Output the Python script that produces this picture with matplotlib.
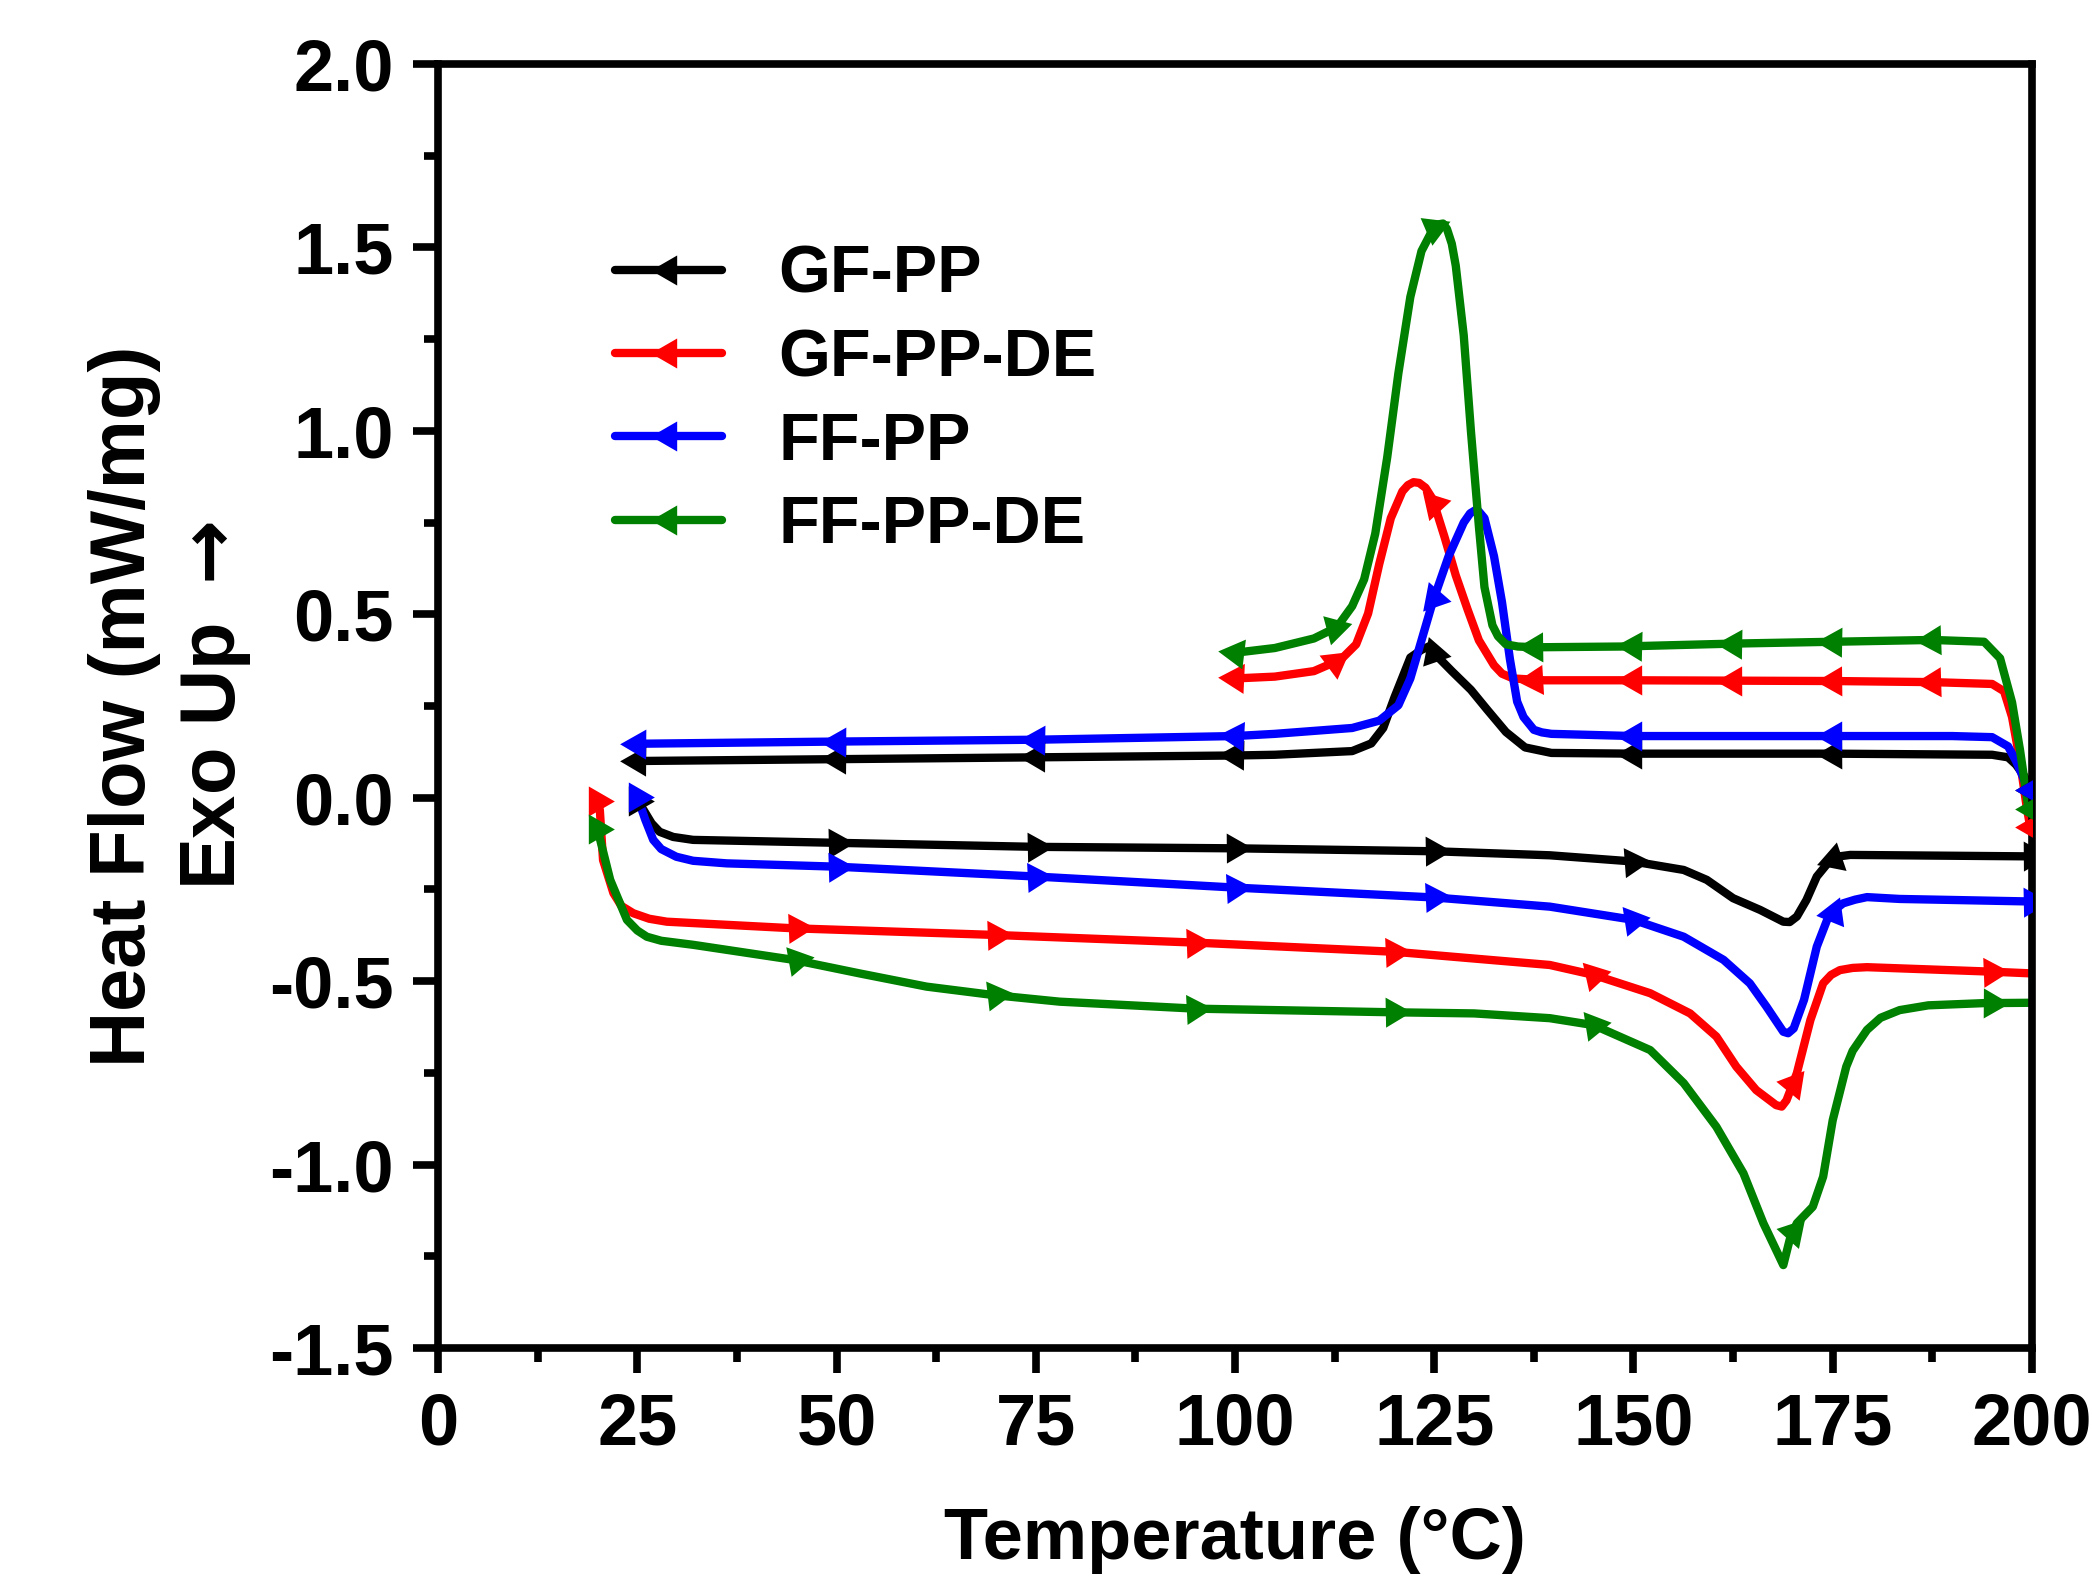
"""DSC heating / cooling curves for GF-PP, GF-PP-DE, FF-PP, FF-PP-DE."""

import numpy as np
import matplotlib
matplotlib.use("Agg")
from matplotlib import pyplot as plt
from matplotlib.lines import Line2D

plt.rcParams['font.family'] = ['Liberation Sans', 'DejaVu Sans']
plt.rcParams['font.weight'] = 'bold'

labels = ["GF-PP", "GF-PP-DE", "FF-PP", "FF-PP-DE"]
colors = ["#000000", "#ff0000", "#0000ff", "#008000"]

# ---- cooling scans (200 -> low T), listed in travel order ----
gf_pp_cool_T = [200, 199.5, 199, 198, 197, 195, 175, 150, 139.7, 136.4, 134, 131.6,
                129.6, 127.2, 125.3, 124.4, 123.4, 122, 120, 118.6, 117.1, 114.7,
                105, 100, 75, 50, 25]
gf_pp_cool_Y = [0.02, 0.04, 0.06, 0.09, 0.11, 0.117, 0.12, 0.12, 0.122, 0.137, 0.179,
                0.241, 0.294, 0.345, 0.387, 0.413, 0.403, 0.382, 0.273, 0.19, 0.148,
                0.127, 0.117, 0.115, 0.11, 0.105, 0.10]

gf_ppde_cool_T = [200, 199.7, 199.3, 198.5, 197.5, 196.5, 195, 187.5, 175, 150, 138.8,
                  134.9, 133.5, 132.5, 130.6, 129.2, 127.7, 126.3, 124.8, 123.9, 123.1,
                  122.4, 121.7, 121, 119.55, 118.1, 116.7, 115.2, 113.3, 109.9, 105, 100]
gf_ppde_cool_Y = [-0.08, -0.07, -0.02, 0.10, 0.22, 0.29, 0.31, 0.315, 0.318, 0.32, 0.32,
                  0.325, 0.338, 0.361, 0.429, 0.512, 0.606, 0.71, 0.814, 0.845, 0.858,
                  0.86, 0.852, 0.835, 0.762, 0.637, 0.502, 0.418, 0.377, 0.345, 0.33,
                  0.325]

ff_pp_cool_T = [200, 199.4, 199, 198, 197, 195, 190, 175, 150, 139.7, 138.5, 137.5,
                136.2, 135.4, 134.5, 133.5, 132.5, 131.3, 130.6, 130.1, 129.5, 128.7,
                126.8, 124.8, 123.4, 122, 120.5, 118.1, 114.7, 105, 100, 75, 50, 25]
ff_pp_cool_Y = [0.02, 0.03, 0.05, 0.10, 0.14, 0.165, 0.168, 0.168, 0.168, 0.174, 0.178,
                0.185, 0.22, 0.262, 0.377, 0.533, 0.658, 0.762, 0.78, 0.783, 0.775, 0.75,
                0.658, 0.533, 0.429, 0.325, 0.252, 0.21, 0.19, 0.174, 0.168, 0.158,
                0.153, 0.147]

ff_ppde_cool_T = [200, 199.5, 198.5, 197.5, 196, 194, 187.5, 175, 162.5, 148.4, 137.8,
                  135.5, 134, 133, 132.3, 131.3, 130.6, 129.6, 128.7, 127.7, 127.2,
                  126.6, 126.1, 125.6, 125.1, 124.6, 123.4, 122, 120.5, 119.1, 117.6,
                  116.2, 114.7, 112.8, 109.9, 105, 100]
ff_ppde_cool_Y = [-0.03, -0.02, 0.13, 0.26, 0.38, 0.425, 0.43, 0.425, 0.42, 0.412, 0.41,
                  0.412, 0.418, 0.44, 0.47, 0.574, 0.74, 1.0, 1.26, 1.45, 1.51, 1.55,
                  1.565, 1.563, 1.555, 1.54, 1.49, 1.365, 1.157, 0.928, 0.72, 0.595,
                  0.522, 0.465, 0.434, 0.408, 0.395]

# ---- heating scans (low T -> 200), listed in travel order ----
gf_pp_heat_T = [25, 25.8, 26.8, 27.8, 29.5, 32, 50, 75, 100, 125, 139.5, 150, 156.3,
                159.2, 162.5, 165.9, 168.8, 169.6, 170.5, 171.7, 173, 174.7, 175.8,
                177.2, 200]
gf_pp_heat_Y = [-0.01, -0.034, -0.07, -0.093, -0.107, -0.115, -0.123, -0.134, -0.138,
                -0.146, -0.157, -0.174, -0.197, -0.224, -0.274, -0.306, -0.338, -0.339,
                -0.324, -0.279, -0.215, -0.17, -0.16, -0.156, -0.16]

gf_ppde_heat_T = [20, 20.3, 20.7, 22, 23, 24.5, 26.5, 28.7, 44.6, 69.7, 95, 120, 139.5,
                  145, 152.1, 157.1, 160.4, 162.9, 165.4, 167.9, 168.6, 169.2, 170.5,
                  172.2, 173.8, 174.8, 175.9, 177.5, 179.3, 194.7, 200]
gf_ppde_heat_Y = [-0.01, -0.034, -0.17, -0.26, -0.295, -0.315, -0.33, -0.338, -0.356,
                  -0.374, -0.395, -0.42, -0.456, -0.483, -0.533, -0.588, -0.651, -0.733,
                  -0.797, -0.838, -0.842, -0.825, -0.751, -0.606, -0.506, -0.483, -0.47,
                  -0.464, -0.462, -0.474, -0.479]

ff_pp_heat_T = [25, 26, 27, 28, 29.9, 32, 36.2, 50, 75.1, 100, 125, 139.5, 150, 156.3,
                161.3, 164.6, 166.7, 168.8, 169.4, 170.1, 171.4, 173, 174.3, 175.3,
                176.3, 177.8, 179.3, 183.4, 200]
ff_pp_heat_Y = [0.003, -0.06, -0.115, -0.14, -0.161, -0.172, -0.179, -0.188, -0.215,
                -0.245, -0.272, -0.297, -0.333, -0.379, -0.442, -0.506, -0.57, -0.638,
                -0.642, -0.629, -0.551, -0.406, -0.333, -0.305, -0.288, -0.278, -0.271,
                -0.276, -0.283]

ff_ppde_heat_T = [20, 21.6, 23.7, 25, 26.2, 28, 32, 44.6, 52.9, 61.3, 69.7, 78, 95,
                  120, 130, 139.5, 145, 152.1, 156.3, 160.4, 163.8, 166.3, 168.8, 169.6,
                  170.5, 172.5, 173.8, 175, 176.7, 177.5, 179.3, 181, 183.4, 187, 193.9,
                  200]
ff_ppde_heat_Y = [-0.085, -0.224, -0.333, -0.362, -0.379, -0.39, -0.401, -0.442, -0.479,
                  -0.515, -0.538, -0.556, -0.575, -0.585, -0.588, -0.601, -0.62, -0.688,
                  -0.778, -0.897, -1.024, -1.16, -1.274, -1.205, -1.16, -1.115, -1.033,
                  -0.879, -0.733, -0.69, -0.633, -0.60, -0.579, -0.566, -0.56, -0.559]

# marker temperatures (where the arrow symbols sit)
marks_25 = [200, 175, 150, 125, 100, 75, 50, 25]
marks_12 = [200, 187.5, 175, 162.5, 150, 137.5, 125, 112.5, 100]
marks_heat_25 = [25, 50, 75, 100, 125, 150, 175, 200]
marks_heat_20 = [20, 45, 70, 95, 120, 145, 170, 195]

cooling = [(gf_pp_cool_T, gf_pp_cool_Y, marks_25),
           (gf_ppde_cool_T, gf_ppde_cool_Y, marks_12),
           (ff_pp_cool_T, ff_pp_cool_Y, marks_25),
           (ff_ppde_cool_T, ff_ppde_cool_Y, marks_12)]
heating = [(gf_pp_heat_T, gf_pp_heat_Y, marks_heat_25),
           (gf_ppde_heat_T, gf_ppde_heat_Y, marks_heat_20),
           (ff_pp_heat_T, ff_pp_heat_Y, marks_heat_25),
           (ff_ppde_heat_T, ff_ppde_heat_Y, marks_heat_20)]

LW = 6.0
MS = 25


def arrow_markers(ax, T, Y, marks, color):
    """Put triangle markers on a curve, turned along the (mirrored) scan direction."""
    T = np.asarray(T, float)
    Y = np.asarray(Y, float)
    order = np.argsort(T)
    ts, ys = T[order], Y[order]
    step = 0.7 if T[-1] > T[0] else -0.7
    for tm in marks:
        ym = np.interp(tm, ts, ys)
        if abs(tm - T[0]) < 1e-6:
            ang = 0.0 if step > 0 else 180.0
        else:
            p0 = ax.transData.transform((tm - step, np.interp(tm - step, ts, ys)))
            p1 = ax.transData.transform((tm, ym))
            dx, dy = p1 - p0
            ang = np.degrees(np.arctan2(-dy, dx))
        ax.plot([tm], [ym], linestyle='none', marker=(3, 0, ang - 90), ms=MS,
                color=color, mec=color, mew=0, zorder=3)


fig = plt.figure(figsize=(20.92, 15.79), dpi=100)
ax = fig.add_axes([0.2094, 0.1463, 0.7619, 0.8132])
ax.set_xlim(0, 200)
ax.set_ylim(-1.5, 2.0)

for (ct, cy, cm), (ht, hy, hm), col in zip(cooling, heating, colors):
    ax.plot(ct, cy, color=col, lw=LW, solid_joinstyle='round', solid_capstyle='round')
    ax.plot(ht, hy, color=col, lw=LW, solid_joinstyle='round', solid_capstyle='round')
    arrow_markers(ax, ct, cy, cm, col)
    arrow_markers(ax, ht, hy, hm, col)

# axes styling
for sp in ax.spines.values():
    sp.set_linewidth(5.5)
ax.set_xticks(np.arange(0, 201, 25))
ax.set_xticks(np.arange(0, 201, 12.5), minor=True)
ax.set_yticks(np.arange(-1.5, 2.01, 0.5))
ax.set_yticks(np.arange(-1.5, 2.01, 0.25), minor=True)
ax.set_yticklabels([f"{v:.1f}" for v in np.arange(-1.5, 2.01, 0.5)])
ax.tick_params(which='major', direction='out', length=18, width=5.5, labelsize=52)
ax.tick_params(which='minor', direction='out', length=10, width=5.5)
ax.tick_params(axis='x', which='major', pad=13)
ax.tick_params(axis='y', which='major', pad=14)

ax.set_xlabel("Temperature (\u00b0C)", fontsize=52, fontweight='bold')
ax.xaxis.set_label_coords(0.5, -0.123)
ax.set_ylabel("Heat Flow (mW/mg)\nExo Up $\\rightarrow$", fontsize=56,
              fontweight='bold', multialignment='center', linespacing=1.3)
ax.yaxis.set_label_coords(-0.116, 0.5)

handles = [Line2D([0], [0], color=c, lw=LW, marker=(3, 0, 90), ms=MS, mew=0,
                  solid_capstyle='round') for c in colors]
ax.legend(handles, labels, loc='upper left', bbox_to_anchor=(0.09, 0.885),
          frameon=False, handlelength=1.6, handletextpad=0.85,
          labelspacing=0.32, borderpad=0, numpoints=1,
          prop={'weight': 'bold', 'size': 48})

fig.savefig("out.png", dpi=100)
